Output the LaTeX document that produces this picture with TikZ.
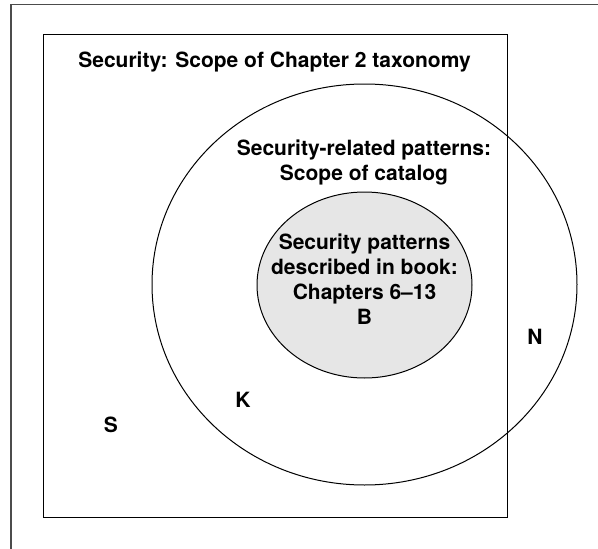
\documentclass[tikz,border=0pt]{standalone}
\usepackage{fontspec}
\setmainfont{TeX Gyre Heros}
\usetikzlibrary{shapes.geometric}
\begin{document}
\begin{tikzpicture}[x=1pt,y=-1pt,
  lbl/.style={inner sep=0pt, align=center, font=\bfseries\fontsize{21}{25}\selectfont},
  ring/.style={ellipse, draw=black, line width=1pt, inner sep=0pt},
  box/.style={rectangle, draw=black, line width=1pt, inner sep=0pt}]
\useasboundingbox (0,0) rectangle (598,549);
\draw[black!70, line width=1.4pt] (11,549) -- (11,4.5) -- (598,4.5);
\node[box, minimum width=464pt, minimum height=483pt] (scope) at (275,275.5) {};
\node[ring, minimum width=425pt, minimum height=401pt] (catalog) at (364.5,284.5) {};
\node[ring, fill={rgb,255:red,230;green,230;blue,230}, minimum width=215pt, minimum height=186pt] (book) at (364.5,285) {};
\node[lbl] (t1) at (274.5,62) {Security: Scope of Chapter 2 taxonomy};
\node[lbl] (t2) at (364,162.5) {Security-related patterns:\\Scope of catalog};
\node[lbl] (t3) at (364.5,279) {Security patterns\\described in book:\\Chapters 6--13\\B};
\node[lbl] (n) at (535,337) {N};
\node[lbl] (k) at (243,400) {K};
\node[lbl] (s) at (111,425) {S};
\end{tikzpicture}
\end{document}
